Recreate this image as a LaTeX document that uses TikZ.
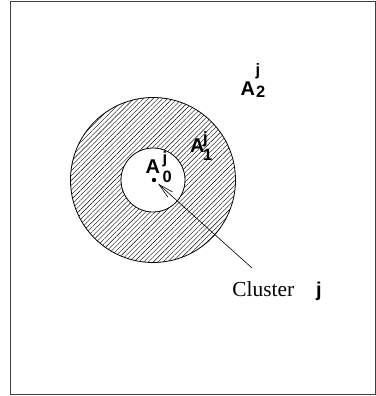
\documentclass[tikz,border=0pt]{standalone}
\usepackage{fontspec}
\setmainfont{Liberation Serif}
\newfontfamily\hv{Liberation Sans}
\usetikzlibrary{patterns.meta,arrows.meta}
\begin{document}
\begin{tikzpicture}[x=1bp,y=-1bp,
  txt/.style={inner sep=0pt,outer sep=0pt,anchor=base west},
  bigA/.style={txt,font=\hv\bfseries\fontsize{20}{20}\selectfont},
  small/.style={txt,font=\hv\bfseries\fontsize{16.5}{16.5}\selectfont},
  ring/.style={draw=black,line width=0.8bp},
  hatch/.style={pattern={Lines[angle=45,distance=3.4bp,line width=0.4bp]}},
  arr/.style={line width=0.6bp,-{Straight Barb[length=15bp,width=7bp,line width=0.6bp]}}]
\useasboundingbox (0,0) rectangle (376,396);
% frame
\draw[line width=0.9bp,draw=black!75] (10.5,1.5) rectangle (375.8,394.6);
% rings
\path[hatch,even odd rule] (153,180) circle[radius=82.5] (153,180) circle[radius=32];
\draw[ring] (153,180) circle[radius=82.5];
\draw[ring] (153,180) circle[radius=32];
% dot
\node[circle,fill=black,inner sep=0pt,minimum size=4.4bp] (dot) at (154,180) {};
% labels
\node[bigA] (a0) at (145.5,173.5) {A};
\node[small] (a0j) at (162.5,163) {j};
\node[small] (a0s) at (162.5,182) {0};
\node[bigA] (a1) at (190,152) {A};
\node[small] (a1j) at (203,143) {j};
\node[small] (a1s) at (203,160.5) {1};
\node[bigA] (a2) at (240.5,95) {A};
\node[small] (a2j) at (255.5,75) {j};
\node[small] (a2s) at (256,97) {2};
% cluster label
\node[txt,font=\fontsize{21.5}{21.5}\selectfont] (cl) at (232.3,296) {Cluster};
\node[txt,font=\hv\bfseries\fontsize{20}{20}\selectfont] (clj) at (316,296) {j};
\coordinate (astart) at (252,268);
\draw[arr,shorten >=3bp] (astart) -- (dot);
\end{tikzpicture}
\end{document}
